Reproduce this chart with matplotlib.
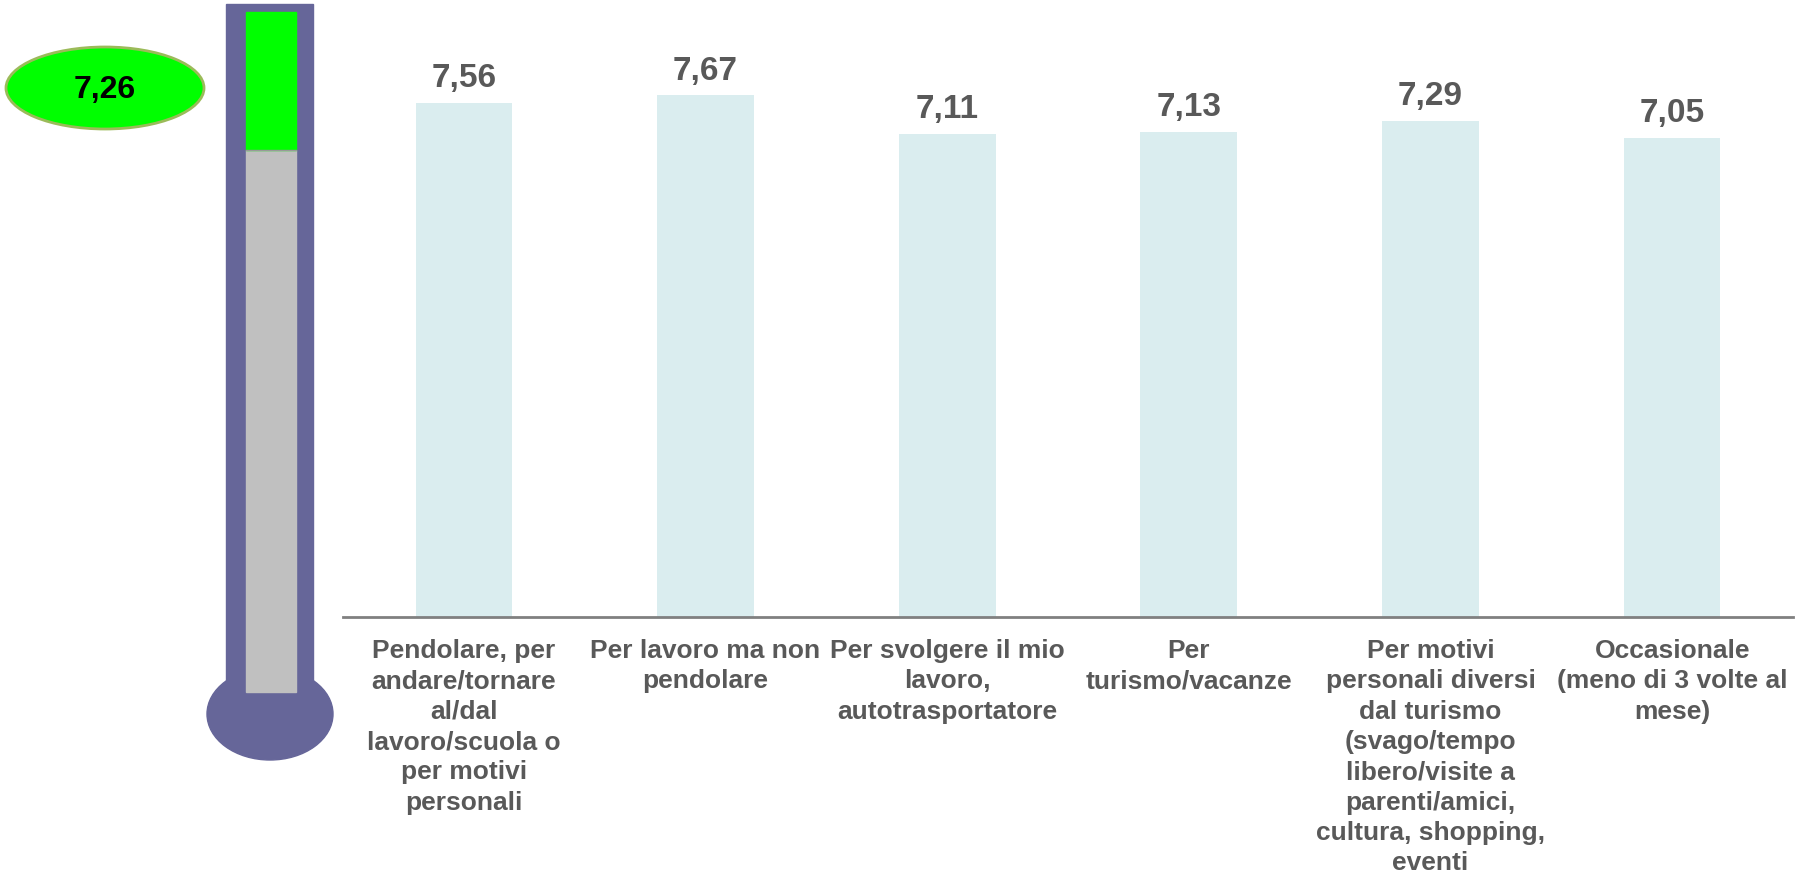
import matplotlib.pyplot as plt
from matplotlib.patches import Rectangle, Ellipse

plt.rcParams['font.family'] = ['Liberation Sans', 'DejaVu Sans']

categorie = [
    "Pendolare, per\nandare/tornare\nal/dal\nlavoro/scuola o\nper motivi\npersonali",
    "Per lavoro ma non\npendolare",
    "Per svolgere il mio\nlavoro,\nautotrasportatore",
    "Per\nturismo/vacanze",
    "Per motivi\npersonali diversi\ndal turismo\n(svago/tempo\nlibero/visite a\nparenti/amici,\ncultura, shopping,\neventi",
    "Occasionale\n(meno di 3 volte al\nmese)",
]
valori = [7.56, 7.67, 7.11, 7.13, 7.29, 7.05]
media = 7.26

W, H = 1797, 880
fig = plt.figure(figsize=(W / 100, H / 100), dpi=100)

# grafico a barre
ax = fig.add_axes([343 / W, (H - 617) / H, (1793 - 343) / W, 617 / H])
x = range(len(valori))
ax.bar(x, valori, width=0.4, color='#DAEDEF')
ax.set_xlim(-0.5, len(valori) - 0.5)
ax.set_ylim(0, 617 / 68)
for i, v in enumerate(valori):
    ax.text(i, v + 0.13, f"{v:.2f}".replace('.', ','), ha='center', va='bottom',
            fontsize=24, fontweight='bold', color='#595959')
ax.set_xticks(list(x))
ax.set_xticklabels(categorie, fontsize=19, fontweight='bold', color='#595959',
                   linespacing=1.33)
ax.tick_params(axis='x', length=0, pad=16)
ax.set_yticks([])
for s in ['top', 'right', 'left']:
    ax.spines[s].set_visible(False)
ax.spines['bottom'].set_color('#808080')
ax.spines['bottom'].set_linewidth(2)

# termometro
th = fig.add_axes([0, 0, 1, 1])
th.set_xlim(0, W)
th.set_ylim(H, 0)
th.axis('off')
viola = '#666699'
th.add_patch(Ellipse((270, 714), 126, 92, color=viola))
th.add_patch(Rectangle((226, 4), 87, 700, color=viola))
th.add_patch(Rectangle((246, 150), 50, 542, color='#C0C0C0'))
th.add_patch(Rectangle((246, 12), 50, 138, color='#00FF00'))
th.plot([246, 296], [150, 150], color='#999999', lw=1)

th.add_patch(Ellipse((105, 88), 198, 82, facecolor='#00FF00', edgecolor='#9BBB59', lw=2))
th.text(105, 90, f"{media:.2f}".replace('.', ','), ha='center', va='center',
        fontsize=23, fontweight='bold', color='black')

fig.savefig('out.png', dpi=100)
